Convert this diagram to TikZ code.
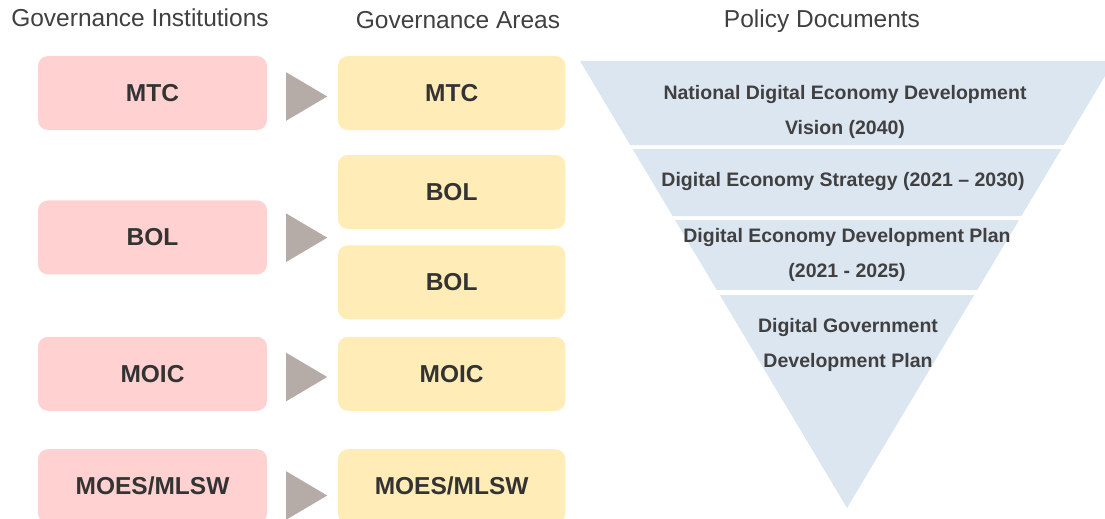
\documentclass[tikz,border=0pt]{standalone}
\usepackage{fontspec}
\setmainfont{Liberation Sans}
\usetikzlibrary{shapes.geometric, positioning, calc}
\definecolor{instpink}{HTML}{FFD1D1}
\definecolor{areayellow}{HTML}{FFECB7}
\definecolor{tribrown}{HTML}{B5ACA8}
\definecolor{funnelblue}{HTML}{DCE6F1}
\definecolor{darktext}{HTML}{333333}
\definecolor{softtext}{HTML}{404040}
\tikzset{
    heading/.style={font=\fontsize{24.5}{28}\selectfont, text=softtext, anchor=base, inner sep=0},
    instbox/.style={fill=instpink, rounded corners=10pt, minimum width=229pt, minimum height=74pt, font=\fontsize{24.5}{28}\selectfont\bfseries, text=darktext},
    areabox/.style={instbox, fill=areayellow, minimum width=227.5pt},
    pointtri/.style={isosceles triangle, isosceles triangle stretches, fill=tribrown, minimum width=48.5pt, minimum height=41pt, inner sep=0, anchor=west},
    band/.style={fill=funnelblue},
    doctext/.style={font=\fontsize{19.5}{35}\selectfont\bfseries, text=softtext, align=center, anchor=north, inner sep=0}
}

\begin{document}
\begin{tikzpicture}[x=1pt, y=-1pt]
        \clip (0,0) rectangle (1105,519);
        % headings
        \node [heading] (headInst) at (140,26.7) {Governance Institutions};
        \node [heading] (headArea) at (458,28.3) {Governance Areas};
        \node [heading] (headDoc) at (822,28) {Policy Documents};

        % institutions
        \node [instbox] (instMTC) at (152.5,93) {MTC};
        \node [instbox, below=70pt of instMTC] (instBOL) {BOL};
        \node [instbox, below=62pt of instBOL] (instMOIC) {MOIC};
        \node [instbox, below=38pt of instMOIC] (instMOES) {MOES/MLSW};

        % areas
        \node [areabox, right=70.5pt of instMTC] (areaMTC) {MTC};
        \node [areabox, below=24.5pt of areaMTC] (areaBOLa) {BOL};
        \node [areabox, below=16pt of areaBOLa] (areaBOLb) {BOL};
        \node [areabox, right=70.5pt of instMOIC] (areaMOIC) {MOIC};
        \node [areabox, right=70.5pt of instMOES] (areaMOES) {MOES/MLSW};

        % pointers
        \node [pointtri] (triMTC) at (286,96.5) {};
        \node [pointtri] (triBOL) at (286,237.7) {};
        \node [pointtri] (triMOIC) at (286,377) {};
        \node [pointtri] (triMOES) at (286,495.5) {};

        % funnel
        \coordinate (topL) at (580,61);
        \coordinate (topR) at (1114,61);
        \coordinate (apex) at (847,508);
        \fill [band] (topL) -- (topR) -- ($(topR)!0.188!(apex)$) -- ($(topL)!0.188!(apex)$) -- cycle;
        \fill [band] ($(topL)!0.197!(apex)$) -- ($(topR)!0.197!(apex)$) -- ($(topR)!0.347!(apex)$) -- ($(topL)!0.347!(apex)$) -- cycle;
        \fill [band] ($(topL)!0.356!(apex)$) -- ($(topR)!0.356!(apex)$) -- ($(topR)!0.512!(apex)$) -- ($(topL)!0.512!(apex)$) -- cycle;
        \fill [band] ($(topL)!0.524!(apex)$) -- ($(topR)!0.524!(apex)$) -- (apex) -- cycle;

        \node [doctext] (docVision) at (845,85.5) {National Digital Economy Development\\Vision (2040)};
        \node [doctext] (docStrategy) at (843,172) {Digital Economy Strategy (2021 -- 2030)};
        \node [doctext] (docPlan) at (847,228) {Digital Economy Development Plan\\(2021 - 2025)};
        \node [doctext] (docGov) at (848,318) {Digital Government\\Development Plan};
    \end{tikzpicture}
\end{document}
